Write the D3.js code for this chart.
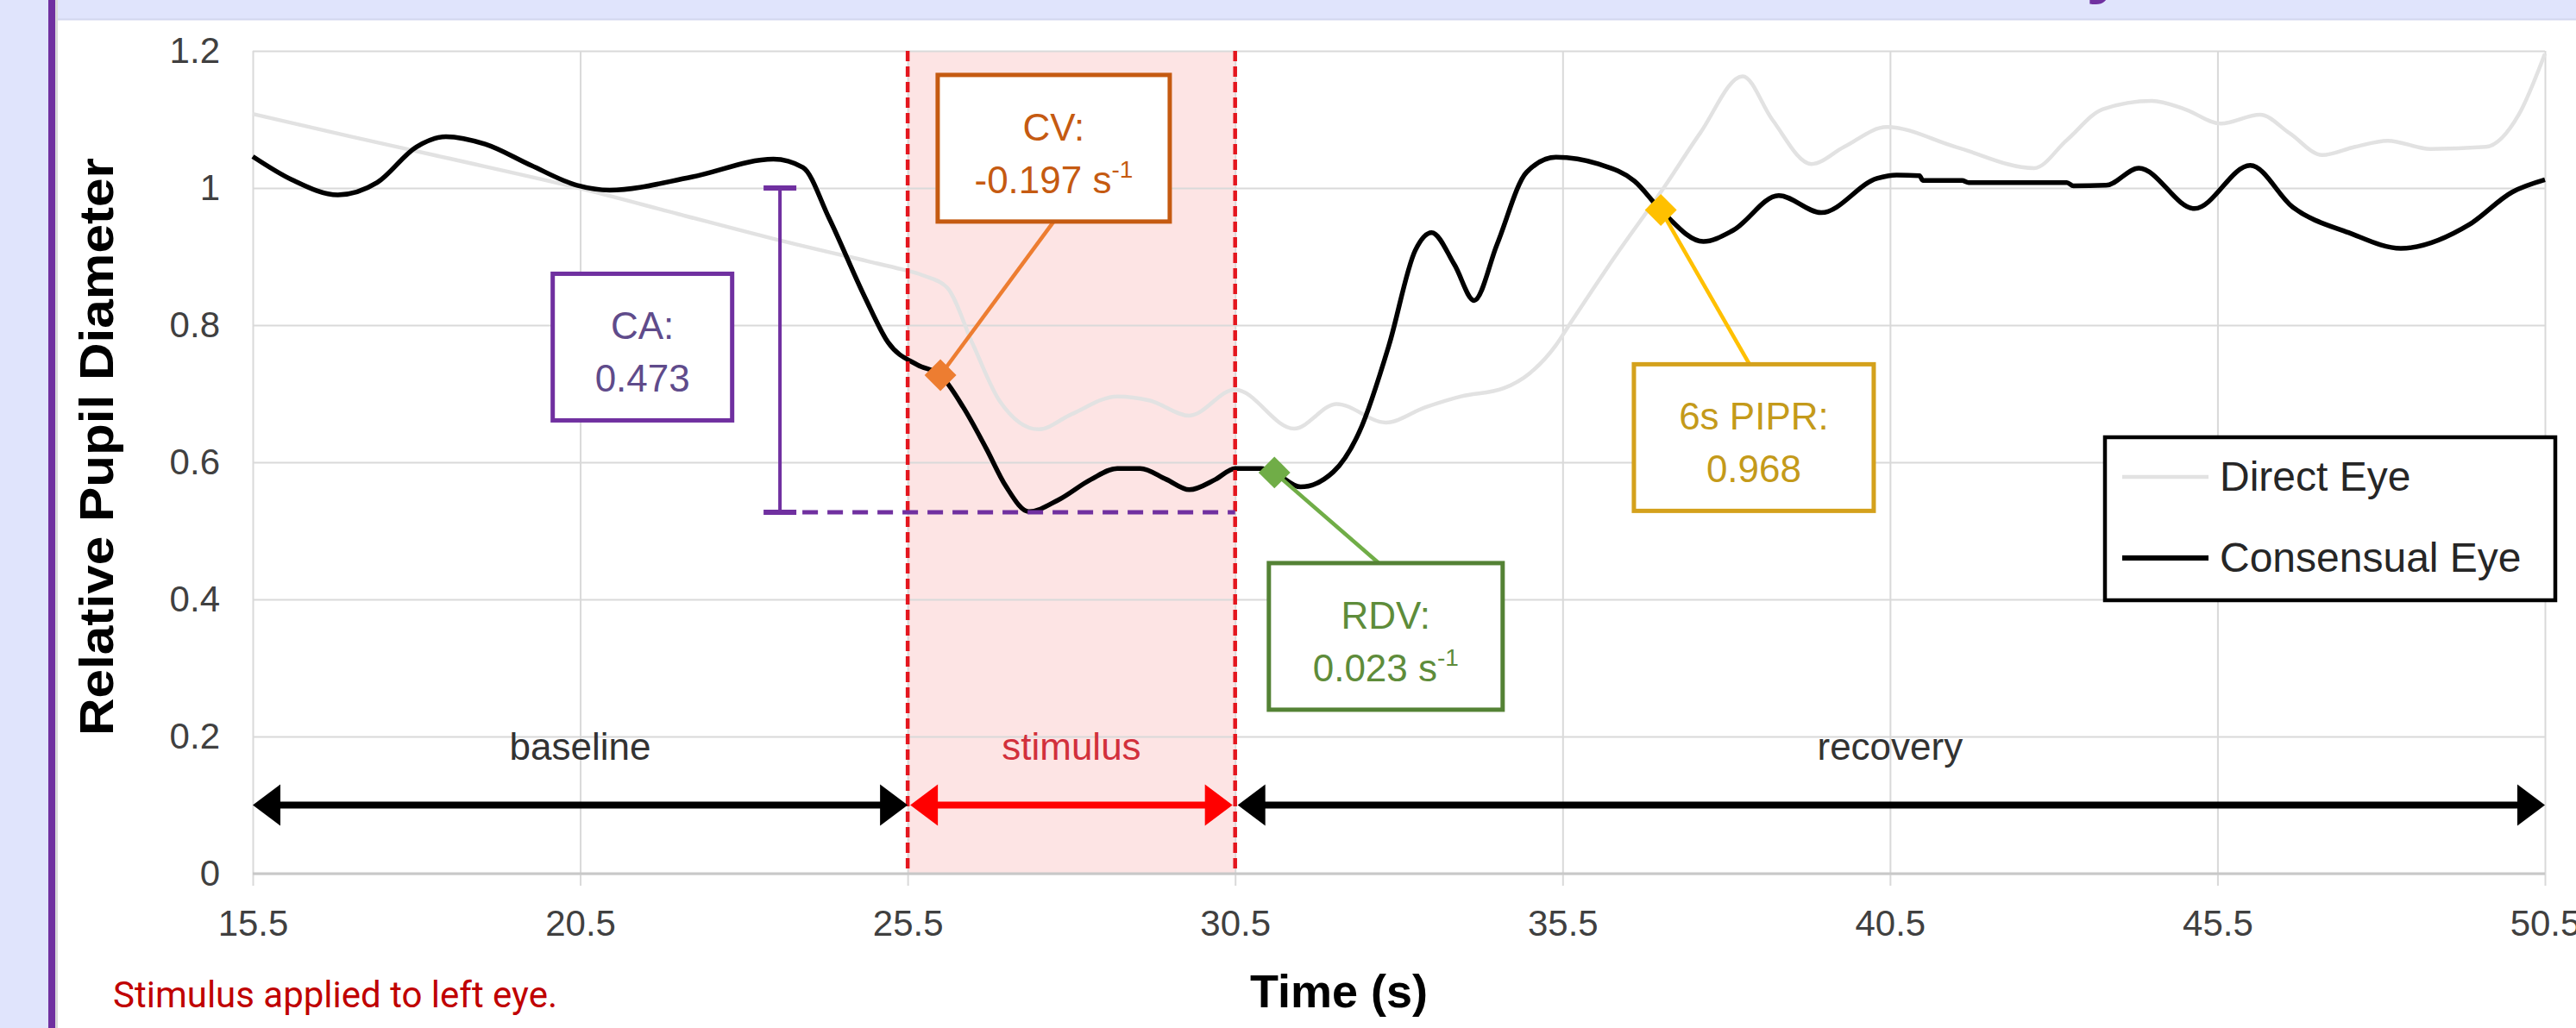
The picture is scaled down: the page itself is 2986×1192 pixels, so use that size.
<!DOCTYPE html>
<html>
<head>
<meta charset="utf-8">
<script src="https://cdn.jsdelivr.net/npm/d3@7"></script>
<style>
  html, body { margin: 0; padding: 0; background: #fff; }
  svg { display: block; font-family: "Liberation Sans", Arial, sans-serif; }
</style>
</head>
<body>
<div id="chart"></div>
<script>
// tick values
var xTicks = [15.5, 20.5, 25.5, 30.5, 35.5, 40.5, 45.5, 50.5];
var yTicks = [0, 0.2, 0.4, 0.6, 0.8, 1.0, 1.2];

// [time (s), relative pupil diameter]
var consensualEye = [
  [15.5, 1.046], [16.1, 1.012], [16.8, 0.990], [17.4, 1.008], [18.0, 1.060], [18.45, 1.075],
  [19.05, 1.064], [19.75, 1.033], [20.45, 1.004], [20.95, 0.997], [22.2, 1.016], [23.45, 1.042],
  [23.9, 1.030], [24.3, 0.956], [24.85, 0.840], [25.2, 0.775], [25.65, 0.742], [26.0, 0.727],
  [26.35, 0.680], [26.7, 0.620], [27.0, 0.565], [27.35, 0.528], [27.8, 0.545], [28.3, 0.575],
  [28.7, 0.591], [29.05, 0.591], [29.45, 0.575], [29.8, 0.560], [30.2, 0.575], [30.5, 0.591],
  [30.9, 0.591], [31.1, 0.585], [31.5, 0.564], [32.0, 0.586], [32.4, 0.645], [32.85, 0.771],
  [33.25, 0.909], [33.5, 0.935], [33.85, 0.888], [34.15, 0.836], [34.5, 0.918], [34.95, 1.023],
  [35.4, 1.045], [36.05, 1.035], [36.6, 1.010], [37.0, 0.968], [37.65, 0.922], [38.1, 0.938],
  [38.8, 0.989], [39.45, 0.964], [40.3, 1.014], [40.6, 1.019], [40.95, 1.018], [41.0, 1.011],
  [41.6, 1.011], [41.7, 1.008], [43.2, 1.008], [43.3, 1.003], [43.8, 1.004], [44.3, 1.029],
  [45.15, 0.970], [46.0, 1.033], [46.65, 0.972], [47.5, 0.935], [48.3, 0.912], [49.35, 0.947],
  [50.0, 0.994], [50.5, 1.012]
];

var directEye = [
  [15.5, 1.108], [17.0, 1.075], [18.5, 1.043], [20.6, 0.997], [22.0, 0.962], [23.45, 0.926],
  [24.9, 0.893], [25.3, 0.884], [25.75, 0.872], [26.1, 0.855], [26.5, 0.771], [26.9, 0.690],
  [27.5, 0.648], [28.0, 0.670], [28.7, 0.696], [29.2, 0.690], [29.8, 0.668], [30.5, 0.706],
  [31.4, 0.649], [32.05, 0.685], [32.8, 0.658], [33.4, 0.680], [33.95, 0.696], [34.6, 0.708],
  [35.0, 0.730], [35.4, 0.771], [35.6, 0.800], [36.3, 0.900], [37.05, 1.001], [37.6, 1.080],
  [38.25, 1.163], [38.7, 1.100], [39.3, 1.035], [39.8, 1.060], [40.45, 1.089], [41.5, 1.060],
  [42.7, 1.029], [43.2, 1.070], [43.75, 1.115], [44.5, 1.127], [45.0, 1.115], [45.55, 1.094],
  [46.15, 1.107], [46.6, 1.080], [47.1, 1.048], [47.6, 1.060], [48.1, 1.069], [48.75, 1.057],
  [49.6, 1.060], [50.1, 1.107], [50.5, 1.196]
];

// phases of the recording
var phaseNames = ["baseline", "stimulus", "recovery"];
var phaseStart = [15.5, 25.5, 30.5];
var phaseEnd = [25.5, 30.5, 50.5];

// response metrics
var metricLabels = ["CV:", "CA:", "RDV:", "6s PIPR:"];
var metricValues = ["-0.197", "0.473", "0.023", "0.968"];
var metricPointT = [26.0, null, 31.1, 37.0];
var metricPointV = [0.727, null, 0.585, 0.968];

var legendNames = ["Direct Eye", "Consensual Eye"];

var W = 2986, H = 1192;
var margin = { left: 293, right: 36, top: 59, bottom: 179 };

var svg = d3.select("#chart").append("svg")
  .attr("width", W)
  .attr("height", H);

// slide background
svg.append("rect").attr("width", W).attr("height", H).attr("fill", "#fff");
svg.append("rect").attr("width", W).attr("height", 22).attr("fill", "#e0e4fc");
svg.append("line").attr("x1", 0).attr("x2", W).attr("y1", 22.5).attr("y2", 22.5)
  .attr("stroke", "#d2d6ee").attr("stroke-width", 2);
svg.append("rect").attr("width", 56).attr("height", H).attr("fill", "#e0e4fc");
svg.append("rect").attr("x", 56).attr("width", 8).attr("height", H).attr("fill", "#7030a0");
svg.append("rect").attr("x", 64).attr("width", 3).attr("height", H).attr("fill", "#d8d8d8");
svg.append("text").attr("x", 2418).attr("y", -12)
  .attr("font-size", 84).attr("font-weight", "bold").attr("fill", "#7030a0").text("y");

var x = d3.scaleLinear().domain([15.5, 50.5]).range([margin.left, W - margin.right]);
var y = d3.scaleLinear().domain([0, 1.2]).range([H - margin.bottom, margin.top]);
var plotH = y(0) - y(1.2);
var plotW = x(50.5) - x(15.5);

// stimulus band
svg.append("rect")
  .attr("x", x(phaseStart[1])).attr("y", y(1.2))
  .attr("width", x(phaseEnd[1]) - x(phaseStart[1])).attr("height", plotH)
  .attr("fill", "#fde4e4");

// grid + axes
var xAxis = svg.append("g")
  .attr("transform", "translate(0," + y(0) + ")")
  .call(d3.axisBottom(x).tickValues(xTicks).tickSizeInner(-plotH).tickSizeOuter(0)
    .tickPadding(42).tickFormat(d3.format(".1f")));
xAxis.select(".domain").remove();
xAxis.selectAll(".tick line").attr("y1", 14).attr("stroke", "#d9d9d9").attr("stroke-width", 2);
xAxis.selectAll("text").attr("font-size", 42).attr("fill", "#404040");

var yAxis = svg.append("g")
  .attr("transform", "translate(" + x(15.5) + ",0)")
  .call(d3.axisLeft(y).tickValues(yTicks).tickSizeInner(-plotW).tickSizeOuter(0)
    .tickPadding(38).tickFormat(d3.format("~g")));
yAxis.select(".domain").remove();
yAxis.selectAll(".tick line").attr("stroke", "#d9d9d9").attr("stroke-width", 2);
yAxis.selectAll("text").attr("font-size", 42).attr("fill", "#404040");

svg.append("line")
  .attr("x1", x(15.5)).attr("x2", x(50.5)).attr("y1", y(0)).attr("y2", y(0))
  .attr("stroke", "#c8c8c8").attr("stroke-width", 3);

// axis titles
svg.append("text")
  .attr("transform", "translate(131," + (y(0.6) - 18) + ") rotate(-90)")
  .attr("text-anchor", "middle")
  .attr("font-size", 56).attr("font-weight", "bold").attr("fill", "#000")
  .attr("textLength", 670).attr("lengthAdjust", "spacingAndGlyphs")
  .text("Relative Pupil Diameter");

svg.append("text")
  .attr("x", 1552).attr("y", 1168)
  .attr("text-anchor", "middle")
  .attr("font-size", 54).attr("font-weight", "bold").attr("fill", "#000")
  .text("Time (s)");

// data lines
var line = d3.line()
  .x(function (d) { return x(d[0]); })
  .y(function (d) { return y(d[1]); })
  .curve(d3.curveMonotoneX);

svg.append("path").datum(directEye)
  .attr("d", line).attr("fill", "none")
  .attr("stroke", "#e2e2e2").attr("stroke-width", 4.5);

svg.append("path").datum(consensualEye)
  .attr("d", line).attr("fill", "none")
  .attr("stroke", "#000").attr("stroke-width", 5.5).attr("stroke-linejoin", "round");

// stimulus boundaries
[phaseStart[1], phaseEnd[1]].forEach(function (t) {
  svg.append("line")
    .attr("x1", x(t)).attr("x2", x(t)).attr("y1", y(1.2)).attr("y2", y(0))
    .attr("stroke", "#e4161e").attr("stroke-width", 4.5)
    .attr("stroke-dasharray", "12,6");
});

// CA bar
var caT = 23.55;
var caLow = 1 - (+metricValues[1]);
svg.append("line")
  .attr("x1", x(caT)).attr("x2", x(caT)).attr("y1", y(1)).attr("y2", y(caLow))
  .attr("stroke", "#7030a0").attr("stroke-width", 4);
[1, caLow].forEach(function (v) {
  svg.append("line")
    .attr("x1", x(caT) - 19).attr("x2", x(caT) + 19).attr("y1", y(v)).attr("y2", y(v))
    .attr("stroke", "#7030a0").attr("stroke-width", 6);
});
svg.append("line")
  .attr("x1", x(caT) + 26).attr("x2", x(phaseEnd[1])).attr("y1", y(caLow)).attr("y2", y(caLow))
  .attr("stroke", "#7030a0").attr("stroke-width", 5).attr("stroke-dasharray", "18,11");

// phase arrows
var arrowV = 0.1;
var phaseColor = ["#000", "#ff0000", "#000"];
var labelColor = ["#333", "#d2303c", "#333"];
var headL = 32, headW = 24;
phaseNames.forEach(function (name, i) {
  var x0 = x(phaseStart[i]) + (i > 0 ? 3 : 0);
  var x1 = x(phaseEnd[i]) - (i === 1 ? 3 : 0);
  var yy = y(arrowV);
  var g = svg.append("g");
  g.append("line")
    .attr("x1", x0 + headL - 2).attr("x2", x1 - headL + 2).attr("y1", yy).attr("y2", yy)
    .attr("stroke", phaseColor[i]).attr("stroke-width", 8);
  g.append("path")
    .attr("d", "M" + x0 + "," + yy + "L" + (x0 + headL) + "," + (yy - headW) + "L" + (x0 + headL) + "," + (yy + headW) + "Z")
    .attr("fill", phaseColor[i]);
  g.append("path")
    .attr("d", "M" + x1 + "," + yy + "L" + (x1 - headL) + "," + (yy - headW) + "L" + (x1 - headL) + "," + (yy + headW) + "Z")
    .attr("fill", phaseColor[i]);
  var lx = i === 0 ? x(20.5) : (i === 1 ? x(28.0) : x(40.5));
  g.append("text")
    .attr("x", lx).attr("y", yy - 53)
    .attr("text-anchor", "middle").attr("font-size", 44)
    .attr("fill", labelColor[i]).text(name);
});

// metric annotation boxes
var boxT = [27.73, 21.45, 32.8, 38.42];
var boxV = [1.058, 0.768, 0.346, 0.636];
var boxW = [269, 208, 271, 278];
var boxH = 170;
var textCol = ["#c55a11", "#5f4b8b", "#5e8c3a", "#c49a1a"];
var borderCol = ["#c55a11", "#7030a0", "#548235", "#d4a11c"];
var markCol = ["#ed7d31", "#7030a0", "#70ad47", "#ffc000"];
var hasUnit = [true, false, true, false];

metricLabels.forEach(function (lab, i) {
  var cx = x(boxT[i]), cy = y(boxV[i]);
  var g = svg.append("g");
  if (metricPointT[i] !== null) {
    var px = x(metricPointT[i]), py = y(metricPointV[i]);
    var ey = py > cy ? cy + boxH / 2 : cy - boxH / 2;
    var ex = i === 2 ? cx - 8 : (i === 3 ? cx - 5 : cx);
    g.append("line")
      .attr("x1", px).attr("y1", py).attr("x2", ex).attr("y2", ey)
      .attr("stroke", markCol[i]).attr("stroke-width", 4.5);
  }
  g.append("rect")
    .attr("x", cx - boxW[i] / 2).attr("y", cy - boxH / 2)
    .attr("width", boxW[i]).attr("height", boxH)
    .attr("fill", "#fff").attr("stroke", borderCol[i]).attr("stroke-width", 5);
  g.append("text")
    .attr("x", cx).attr("y", cy - 9)
    .attr("text-anchor", "middle").attr("font-size", 44).attr("fill", textCol[i])
    .text(lab);
  var t2 = g.append("text")
    .attr("x", cx).attr("y", cy + 52)
    .attr("text-anchor", "middle").attr("font-size", 44).attr("fill", textCol[i])
    .text(metricValues[i] + (hasUnit[i] ? " s" : ""));
  if (hasUnit[i]) {
    t2.append("tspan").attr("dy", -18).attr("font-size", 28).text("-1");
  }
  if (metricPointT[i] !== null) {
    svg.append("path")
      .attr("d", d3.symbol(d3.symbolSquare, 680)())
      .attr("transform", "translate(" + x(metricPointT[i]) + "," + y(metricPointV[i]) + ") rotate(45)")
      .attr("fill", markCol[i]);
  }
});

// legend
var leg = svg.append("g").attr("transform", "translate(2440,507)");
leg.append("rect").attr("width", 522).attr("height", 189)
  .attr("fill", "#fff").attr("stroke", "#000").attr("stroke-width", 4.5);
var legStroke = ["#e2e2e2", "#000"];
var legWidth = [4.5, 6];
legendNames.forEach(function (n, i) {
  var ly = 46 + i * 94;
  leg.append("line").attr("x1", 20).attr("x2", 120).attr("y1", ly).attr("y2", ly)
    .attr("stroke", legStroke[i]).attr("stroke-width", legWidth[i]);
  leg.append("text").attr("x", 133).attr("y", ly + 16)
    .attr("font-size", 48).attr("fill", "#262626").text(n);
});

// caption
svg.append("text")
  .attr("x", 131).attr("y", 1168)
  .attr("font-family", "Roboto, 'Liberation Sans', sans-serif")
  .attr("font-size", 42).attr("fill", "#c00000")
  .text("Stimulus applied to left eye.");
</script>
</body>
</html>
